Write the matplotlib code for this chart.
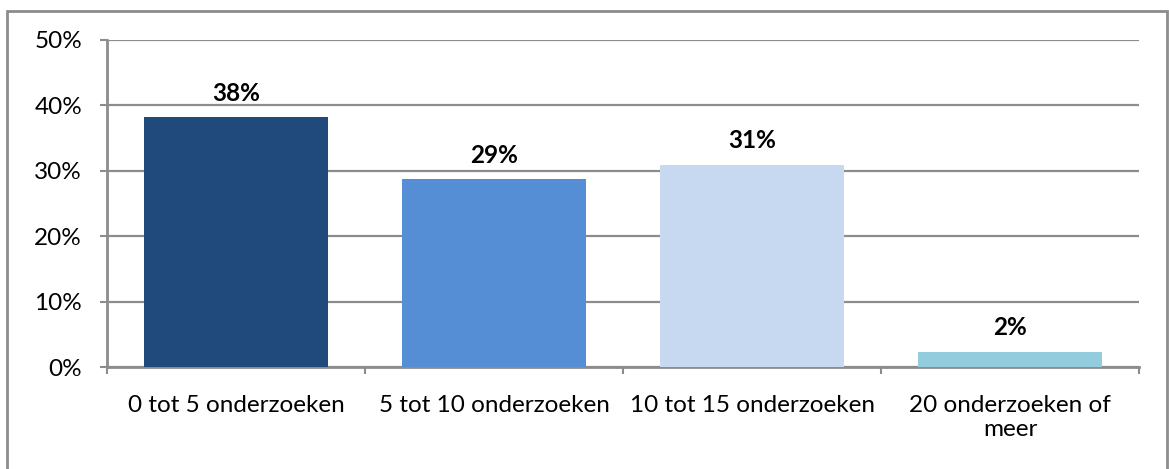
import matplotlib.pyplot as plt
from matplotlib.patches import Rectangle

categories = ['0 tot 5 onderzoeken', '5 tot 10 onderzoeken', '10 tot 15 onderzoeken', '20 onderzoeken of\nmeer']
values = [38.2, 28.7, 30.9, 2.3]
value_labels = ['38%', '29%', '31%', '2%']
bar_colors = ['#204a7c', '#558ed5', '#c6d9f1', '#93cddd']
y_ticks = [0, 10, 20, 30, 40, 50]

plt.rcParams['font.family'] = ['Lato', 'DejaVu Sans']
grey = '#8c8c8c'

fig = plt.figure(figsize=(11.69, 4.69), dpi=100)
# outer chart frame (open at the bottom, as in the source)
fig.patches.append(Rectangle((7 / 1169, -0.1), 1160 / 1169, 1.1 - 11 / 469,
                             transform=fig.transFigure, fill=False,
                             edgecolor=grey, linewidth=2))

ax = fig.add_axes([107 / 1169, 1 - 367 / 469, 1032 / 1169, 327 / 469])
x = list(range(len(categories)))
ax.bar(x, values, width=0.71, color=bar_colors, zorder=3)

for xi, v, lab in zip(x, values, value_labels):
    ax.annotate(lab, (xi, v), xytext=(0, 12), textcoords='offset points',
                ha='center', va='baseline', fontsize=17.5, fontweight='bold')

ax.set_xlim(-0.5, len(categories) - 0.5)
ax.set_ylim(0, 50)
ax.set_yticks(y_ticks)
ax.set_yticklabels([f'{t}%' for t in y_ticks], fontsize=17.5)
ax.yaxis.grid(True, color=grey, linewidth=1.6, zorder=0)

# category labels centered, tick marks at the boundaries
ax.set_xticks(x)
ax.set_xticklabels(categories, fontsize=17.5, linespacing=1.2)
ax.tick_params(axis='x', length=0, pad=20)
ax.set_xticks([i - 0.5 for i in range(len(categories) + 1)], minor=True)
ax.tick_params(axis='x', which='minor', length=5, width=1.5, color=grey)
ax.tick_params(axis='y', length=5, width=1.5, color=grey, pad=13)

for side in ['top', 'right']:
    ax.spines[side].set_visible(False)
for side in ['left', 'bottom']:
    ax.spines[side].set_color(grey)
    ax.spines[side].set_linewidth(2)

fig.savefig('out.png', dpi=100)
